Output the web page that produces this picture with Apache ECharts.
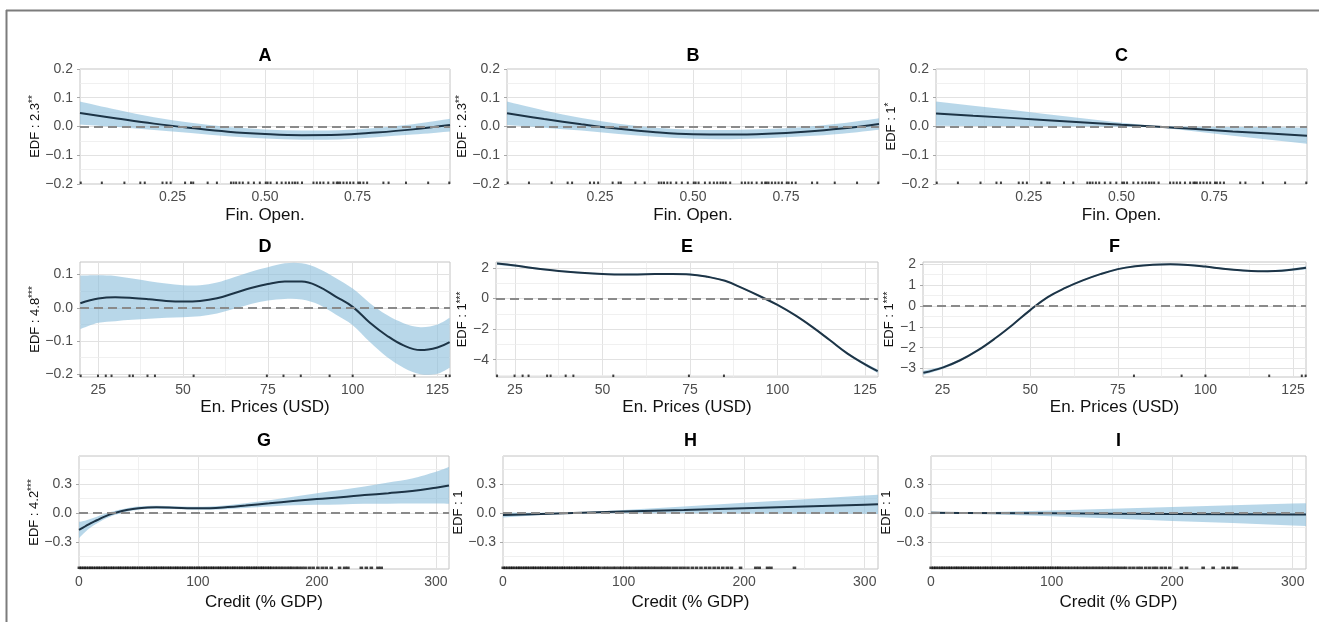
<!DOCTYPE html>
<html>
<head>
<meta charset="utf-8">
<script src="https://cdn.jsdelivr.net/npm/echarts@6/dist/echarts.min.js"></script>
<style>
html, body { margin: 0; padding: 0; background: #ffffff; }
#chart { width: 1319px; height: 622px; }
</style>
</head>
<body>
<div id="chart"></div>
<script>
// ---------- Financial openness smooths (panels A–C) ----------
const finOpenX = [0, 0.1, 0.2, 0.3, 0.4, 0.5, 0.6, 0.7, 0.8, 0.9, 1.0];
const fitA   = [0.047, 0.028, 0.010, -0.005, -0.018, -0.026, -0.030, -0.029, -0.021, -0.010, 0.005];
const upperA = [0.087, 0.058, 0.032, 0.013, -0.002, -0.010, -0.014, -0.013, -0.005, 0.008, 0.027];
const lowerA = [0.007, -0.002, -0.012, -0.023, -0.034, -0.042, -0.046, -0.045, -0.037, -0.028, -0.017];
const fitB   = [0.046, 0.026, 0.008, -0.008, -0.020, -0.027, -0.028, -0.025, -0.018, -0.007, 0.009];
const upperB = [0.087, 0.056, 0.030, 0.010, -0.004, -0.011, -0.012, -0.009, -0.002, 0.011, 0.029];
const lowerB = [0.005, -0.004, -0.014, -0.026, -0.036, -0.043, -0.044, -0.041, -0.034, -0.025, -0.011];
const fitC   = [0.045, 0.037, 0.030, 0.022, 0.014, 0.006, -0.001, -0.009, -0.017, -0.024, -0.032];
const upperC = [0.087, 0.072, 0.058, 0.043, 0.028, 0.013, 0.001, -0.001, -0.002, -0.002, -0.004];
const lowerC = [0.003, 0.002, 0.002, 0.001, 0.000, -0.001, -0.003, -0.017, -0.032, -0.046, -0.060];
const finOpenRug = [0.002, 0.059, 0.120, 0.163, 0.175, 0.223, 0.234, 0.245, 0.284, 0.300, 0.306, 0.345,
  0.370, 0.408, 0.415, 0.422, 0.431, 0.440, 0.455, 0.470, 0.486, 0.502, 0.507, 0.515, 0.532, 0.545,
  0.556, 0.565, 0.574, 0.581, 0.588, 0.600, 0.631, 0.640, 0.649, 0.658, 0.671, 0.685, 0.694, 0.698,
  0.703, 0.712, 0.721, 0.730, 0.739, 0.752, 0.757, 0.766, 0.776, 0.820, 0.834, 0.881, 0.941, 0.998];
const finOpenTicks = [0.25, 0.5, 0.75];
const finOpenMinor = [0.125, 0.375, 0.625, 0.875];
const finYTicks = [-0.2, -0.1, 0, 0.1, 0.2];
const finYMinor = [-0.15, -0.05, 0.05, 0.15];

// ---------- Energy price smooths (panels D–F) ----------
const enPriceXD = [19.7, 25, 30, 35, 40, 45, 50, 55, 60, 65, 70, 75, 80, 85, 90, 95, 100, 105, 110, 115, 120, 125, 128.6];
const fitD   = [0.014, 0.028, 0.032, 0.030, 0.026, 0.021, 0.019, 0.021, 0.029, 0.044, 0.060, 0.072, 0.079, 0.079, 0.064, 0.034, 0.003, -0.044, -0.083, -0.113, -0.127, -0.119, -0.103];
const upperD = [0.097, 0.098, 0.096, 0.088, 0.080, 0.073, 0.068, 0.068, 0.076, 0.092, 0.109, 0.122, 0.134, 0.134, 0.118, 0.090, 0.058, 0.015, -0.021, -0.046, -0.058, -0.050, -0.030];
const lowerD = [-0.064, -0.045, -0.040, -0.036, -0.033, -0.030, -0.028, -0.025, -0.017, -0.003, 0.012, 0.022, 0.027, 0.025, 0.010, -0.020, -0.052, -0.102, -0.147, -0.180, -0.200, -0.198, -0.180];
const enPriceXE = [19.9, 25, 30, 35, 40, 45, 50, 55, 60, 65, 70, 75, 80, 85, 90, 95, 100, 105, 110, 115, 120, 125, 128.6];
const fitE   = [2.29, 2.16, 2.00, 1.87, 1.76, 1.67, 1.61, 1.57, 1.58, 1.60, 1.61, 1.58, 1.42, 1.16, 0.68, 0.15, -0.42, -1.09, -1.87, -2.73, -3.60, -4.30, -4.75];
const upperE = [2.38, 2.23, 2.06, 1.92, 1.81, 1.72, 1.66, 1.62, 1.63, 1.65, 1.66, 1.63, 1.47, 1.21, 0.73, 0.20, -0.37, -1.04, -1.81, -2.66, -3.52, -4.21, -4.63];
const lowerE = [2.20, 2.09, 1.94, 1.82, 1.71, 1.62, 1.56, 1.52, 1.53, 1.55, 1.56, 1.53, 1.37, 1.11, 0.63, 0.10, -0.47, -1.14, -1.93, -2.80, -3.68, -4.39, -4.87];
const enPriceXF = [19.5, 25, 30, 35, 40, 45, 50, 55, 60, 65, 70, 75, 80, 85, 90, 95, 100, 105, 110, 115, 120, 125, 128.7];
const fitF   = [-3.20, -2.95, -2.60, -2.13, -1.55, -0.90, -0.20, 0.42, 0.86, 1.22, 1.52, 1.76, 1.90, 1.97, 1.99, 1.96, 1.88, 1.78, 1.70, 1.66, 1.67, 1.74, 1.82];
const upperF = [-3.10, -2.88, -2.55, -2.09, -1.51, -0.86, -0.16, 0.46, 0.90, 1.26, 1.56, 1.80, 1.94, 2.01, 2.03, 2.00, 1.92, 1.82, 1.74, 1.70, 1.72, 1.80, 1.90];
const lowerF = [-3.30, -3.02, -2.65, -2.17, -1.59, -0.94, -0.24, 0.38, 0.82, 1.18, 1.48, 1.72, 1.86, 1.93, 1.95, 1.92, 1.84, 1.74, 1.66, 1.62, 1.62, 1.68, 1.74];
const enPriceRugD = [19.8, 24.9, 27.2, 28.9, 34.2, 35.2, 39.5, 41.7, 53.1, 74.7, 79.6, 84.7, 93.2, 100, 118.2, 127.5, 128.6];
const enPriceRugE = [19.9, 24.9, 27.2, 28.9, 34.2, 35.2, 39.5, 41.7, 53.1, 74.7, 84.7];
const enPriceRugF = [79.6, 93.2, 100, 118.2, 127.5, 128.6];
const enPriceTicks = [25, 50, 75, 100, 125];
const enPriceMinor = [37.5, 62.5, 87.5, 112.5];
const dYTicks = [-0.2, -0.1, 0, 0.1];
const dYMinor = [-0.15, -0.05, 0.05];
const eYTicks = [-4, -2, 0, 2];
const eYMinor = [-5, -3, -1, 1];
const fYTicks = [-3, -2, -1, 0, 1, 2];
const fYMinor = [-2.5, -1.5, -0.5, 0.5, 1.5];

// ---------- Credit smooths (panels G–I) ----------
const creditXG = [0, 5, 10, 15, 20, 25, 30, 40, 50, 65, 80, 95, 110, 125, 140, 160, 180, 200, 220, 240, 260, 280, 300, 311];
const fitG   = [-0.176, -0.140, -0.104, -0.075, -0.045, -0.020, 0.000, 0.031, 0.050, 0.059, 0.055, 0.049, 0.050, 0.061, 0.077, 0.100, 0.124, 0.145, 0.163, 0.185, 0.205, 0.227, 0.262, 0.285];
const upperG = [-0.091, -0.080, -0.059, -0.040, -0.017, 0.004, 0.021, 0.049, 0.066, 0.074, 0.070, 0.064, 0.067, 0.081, 0.102, 0.133, 0.169, 0.205, 0.238, 0.275, 0.315, 0.357, 0.427, 0.475];
const lowerG = [-0.261, -0.200, -0.149, -0.110, -0.073, -0.044, -0.021, 0.013, 0.034, 0.044, 0.040, 0.034, 0.033, 0.041, 0.052, 0.067, 0.079, 0.085, 0.088, 0.095, 0.095, 0.097, 0.097, 0.095];
const creditXH = [0, 25, 58, 100, 150, 200, 250, 300, 311];
const fitH   = [-0.021, -0.012, 0.000, 0.015, 0.032, 0.050, 0.068, 0.086, 0.090];
const upperH = [0.004, 0.002, 0.003, 0.032, 0.068, 0.105, 0.143, 0.181, 0.190];
const lowerH = [-0.046, -0.026, -0.003, -0.002, -0.004, -0.005, -0.007, -0.009, -0.010];
const creditXI = [0, 25, 100, 150, 200, 250, 300, 311];
const fitI   = [0.002, 0.000, -0.004, -0.007, -0.010, -0.013, -0.016, -0.017];
const upperI = [0.016, 0.003, 0.027, 0.044, 0.062, 0.079, 0.097, 0.100];
const lowerI = [-0.012, -0.003, -0.035, -0.058, -0.082, -0.105, -0.129, -0.134];
const creditRugG = [0.3, 2.1, 4.2, 6.0, 8.3, 10.1, 12.0, 14.2, 16.1, 18.0, 20.3, 22.1, 24.0, 26.2, 28.1,
  30.0, 32.3, 34.1, 36.0, 38.2, 40.1, 42.0, 44.3, 46.1, 48.0, 50.2, 52.1, 54.0, 56.3, 58.1, 60.0, 62.2,
  64.1, 66.0, 68.3, 70.1, 72.0, 74.2, 76.1, 78.0, 80.3, 82.1, 84.0, 86.2, 88.1, 90.0, 92.3, 94.1, 96.0,
  98.2, 100.1, 102.0, 104.3, 106.1, 108.0, 110.2, 112.1, 114.0, 116.3, 118.1, 120.0, 122.2, 124.1, 126.0,
  128.3, 130.1, 132.0, 134.2, 136.1, 138.0, 140.3, 142.1, 144.0, 146.2, 148.1, 150.0, 152.3, 154.1, 156.0,
  158.2, 160.1, 162.0, 164.6, 166.9, 169.4, 171.8, 174.5, 177.0, 179.2, 182.1, 184.5, 187.3, 190.1, 193.6,
  196.8, 200.8, 204.5, 207.8, 212.0, 219.0, 223.3, 226.0, 237.3, 241.5, 245.7, 251.3, 254.0];
const creditRugH = [0.2, 2.0, 4.1, 6.2, 8.0, 10.1, 12.3, 14.0, 16.1, 18.2, 20.0, 22.1, 24.3, 26.0, 28.1,
  30.2, 32.0, 34.1, 36.3, 38.0, 40.1, 42.2, 44.0, 46.1, 48.3, 50.0, 52.1, 54.2, 56.0, 58.1, 60.3, 62.0,
  64.1, 66.2, 68.0, 70.1, 72.3, 74.0, 76.1, 78.2, 80.0, 83.0, 85.5, 88.1, 91.0, 93.4, 96.2, 98.5, 101.1,
  103.6, 106.0, 108.9, 111.3, 114.0, 116.6, 119.2, 121.8, 124.5, 127.1, 130.0, 132.6, 135.3, 138.0, 141.2,
  144.1, 147.3, 150.2, 153.4, 157.0, 160.5, 164.2, 168.0, 171.4, 175.1, 178.6, 182.3, 186.0, 189.4, 197.0,
  209.7, 212.5, 219.4, 222.2, 241.7];
const creditRugI = [0.1, 2.2, 4.0, 6.1, 8.3, 10.0, 12.1, 14.2, 16.0, 18.1, 20.3, 22.0, 24.1, 26.2, 28.0,
  30.1, 32.3, 34.0, 36.1, 38.2, 40.0, 42.1, 44.3, 46.0, 48.1, 50.2, 52.0, 54.1, 56.3, 58.0, 60.1, 62.2,
  64.0, 66.1, 68.3, 70.0, 72.1, 74.2, 76.0, 78.1, 80.3, 82.0, 84.1, 86.2, 88.0, 90.1, 92.3, 94.0, 96.1,
  98.2, 100.0, 102.1, 104.3, 106.0, 108.1, 110.6, 113.0, 115.3, 117.9, 120.4, 122.8, 125.5, 128.0, 130.4,
  133.1, 135.6, 138.2, 140.7, 143.3, 146.0, 148.4, 151.1, 153.8, 156.2, 159.0, 161.5, 165.0, 168.2, 171.6,
  174.3, 178.0, 181.2, 184.5, 187.1, 191.0, 194.3, 198.0, 207.7, 211.9, 225.7, 234.0, 242.3, 246.4, 250.6, 253.3];
const creditTicks = [0, 100, 200, 300];
const creditMinor = [50, 150, 250];
const creditYTicks = [-0.3, 0, 0.3];
const creditYMinor = [-0.45, -0.15, 0.15, 0.45];

// ---------- styling ----------
const FONT = '"Liberation Sans", Arial, Helvetica, sans-serif';
const LINE_COLOR = '#1d3446';
const BAND_COLOR = 'rgba(140, 190, 220, 0.62)';
const GRID_MAJOR = '#e2e2e2';
const GRID_MINOR = '#ececec';

function signed(digits) {
  return function (v) {
    const s = Number(v).toFixed(digits);
    return s.charAt(0) === '-' ? '\u2212' + s.slice(1) : s;
  };
}

// panel descriptions: data references plus layout box [left, top, width, height]
const panels = [
  { title: 'A', rect: [80, 69, 370, 115], x: finOpenX, fit: fitA, upper: upperA, lower: lowerA, rug: finOpenRug,
    edf: '2.3', stars: '**', xName: 'Fin. Open.', xMin: 0, xMax: 1, xTicks: finOpenTicks, xMinor: finOpenMinor, xFmt: signed(2),
    yMin: -0.2, yMax: 0.2, yTicks: finYTicks, yMinor: finYMinor, yFmt: signed(1), smooth: 0.4, yGap: 31, xGap: 23, rugSize: [2, 2.5] },
  { title: 'B', rect: [507, 69, 372, 115], x: finOpenX, fit: fitB, upper: upperB, lower: lowerB, rug: finOpenRug,
    edf: '2.3', stars: '**', xName: 'Fin. Open.', xMin: 0, xMax: 1, xTicks: finOpenTicks, xMinor: finOpenMinor, xFmt: signed(2),
    yMin: -0.2, yMax: 0.2, yTicks: finYTicks, yMinor: finYMinor, yFmt: signed(1), smooth: 0.4, yGap: 29, xGap: 23, rugSize: [2, 2.5] },
  { title: 'C', rect: [936, 69, 371, 115], x: finOpenX, fit: fitC, upper: upperC, lower: lowerC, rug: finOpenRug,
    edf: '1', stars: '*', xName: 'Fin. Open.', xMin: 0, xMax: 1, xTicks: finOpenTicks, xMinor: finOpenMinor, xFmt: signed(2),
    yMin: -0.2, yMax: 0.2, yTicks: finYTicks, yMinor: finYMinor, yFmt: signed(1), smooth: 0, yGap: 31, xGap: 23, rugSize: [2, 2.5] },
  { title: 'D', rect: [80, 262, 370, 115], x: enPriceXD, fit: fitD, upper: upperD, lower: lowerD, rug: enPriceRugD,
    edf: '4.8', stars: '***', xName: 'En. Prices (USD)', xMin: 19.6, xMax: 128.7, xTicks: enPriceTicks, xMinor: enPriceMinor, xFmt: signed(0),
    yMin: -0.208, yMax: 0.138, yTicks: dYTicks, yMinor: dYMinor, yFmt: signed(1), smooth: 0.4, yGap: 29, xGap: 22, rugSize: [2, 2.5] },
  { title: 'E', rect: [496, 262, 382, 115], x: enPriceXE, fit: fitE, upper: upperE, lower: lowerE, rug: enPriceRugE,
    edf: '1', stars: '***', xName: 'En. Prices (USD)', xMin: 19.6, xMax: 128.7, xTicks: enPriceTicks, xMinor: enPriceMinor, xFmt: signed(0),
    yMin: -5.13, yMax: 2.39, yTicks: eYTicks, yMinor: eYMinor, yFmt: signed(0), smooth: 0.4, yGap: 14, xGap: 22, rugSize: [2, 2.5] },
  { title: 'F', rect: [923, 262, 383, 115], x: enPriceXF, fit: fitF, upper: upperF, lower: lowerF, rug: enPriceRugF,
    edf: '1', stars: '***', xName: 'En. Prices (USD)', xMin: 19.4, xMax: 128.7, xTicks: enPriceTicks, xMinor: enPriceMinor, xFmt: signed(0),
    yMin: -3.4, yMax: 2.1, yTicks: fYTicks, yMinor: fYMinor, yFmt: signed(0), smooth: 0.4, yGap: 15, xGap: 22, rugSize: [2, 2.5] },
  { title: 'G', rect: [79, 456, 370, 113], x: creditXG, fit: fitG, upper: upperG, lower: lowerG, rug: creditRugG,
    edf: '4.2', stars: '***', xName: 'Credit (% GDP)', xMin: 0, xMax: 311, xTicks: creditTicks, xMinor: creditMinor, xFmt: signed(0),
    yMin: -0.58, yMax: 0.59, yTicks: creditYTicks, yMinor: creditYMinor, yFmt: signed(1), smooth: 0.4, yGap: 27, xGap: 25, rugSize: [3.6, 2.5] },
  { title: 'H', rect: [503, 456, 375, 113], x: creditXH, fit: fitH, upper: upperH, lower: lowerH, rug: creditRugH,
    edf: '1', stars: '', xName: 'Credit (% GDP)', xMin: 0, xMax: 311, xTicks: creditTicks, xMinor: creditMinor, xFmt: signed(0),
    yMin: -0.58, yMax: 0.59, yTicks: creditYTicks, yMinor: creditYMinor, yFmt: signed(1), smooth: 0, yGap: 26, xGap: 25, rugSize: [3.6, 2.5] },
  { title: 'I', rect: [931, 456, 375, 113], x: creditXI, fit: fitI, upper: upperI, lower: lowerI, rug: creditRugI,
    edf: '1', stars: '', xName: 'Credit (% GDP)', xMin: 0, xMax: 311, xTicks: creditTicks, xMinor: creditMinor, xFmt: signed(0),
    yMin: -0.58, yMax: 0.59, yTicks: creditYTicks, yMinor: creditYMinor, yFmt: signed(1), smooth: 0, yGap: 27, xGap: 25, rugSize: [3.6, 2.5] }
];

// Catmull-Rom style path through pixel points (straight segments when tension is 0)
function pathThrough(pts, tension, startCmd) {
  let d = startCmd + ' ' + pts[0][0] + ' ' + pts[0][1];
  for (let k = 0; k < pts.length - 1; k++) {
    const p0 = pts[k - 1] || pts[k];
    const p1 = pts[k];
    const p2 = pts[k + 1];
    const p3 = pts[k + 2] || pts[k + 1];
    if (!tension) {
      d += ' L ' + p2[0] + ' ' + p2[1];
      continue;
    }
    const f = tension / 2.4;
    const c1x = p1[0] + (p2[0] - p0[0]) * f, c1y = p1[1] + (p2[1] - p0[1]) * f;
    const c2x = p2[0] - (p3[0] - p1[0]) * f, c2y = p2[1] - (p3[1] - p1[1]) * f;
    d += ' C ' + c1x + ' ' + c1y + ' ' + c2x + ' ' + c2y + ' ' + p2[0] + ' ' + p2[1];
  }
  return d;
}

const option = {
  animation: false,
  textStyle: { fontFamily: FONT },
  grid: [], xAxis: [], yAxis: [], series: [],
  graphic: [
    // outer frame (top and left edges)
    { type: 'line', silent: true, shape: { x1: 6, y1: 10.5, x2: 1319, y2: 10.5 }, style: { stroke: '#7c7c7c', lineWidth: 2 } },
    { type: 'line', silent: true, shape: { x1: 6.5, y1: 10, x2: 6.5, y2: 622 }, style: { stroke: '#7c7c7c', lineWidth: 2 } }
  ]
};

const zip = (xs, ys) => xs.map((v, k) => [v, ys[k]]);

panels.forEach((p, i) => {
  const [left, top, width, height] = p.rect;

  option.grid.push({
    left: left, top: top, width: width, height: height,
    show: true, borderColor: '#c4c4c4', borderWidth: 1, backgroundColor: 'transparent'
  });

  option.graphic.push({
    type: 'text', silent: true, x: left + width / 2, y: top - (i < 3 ? 13 : 15),
    style: { text: p.title, fill: '#000', font: 'bold 18px ' + FONT, textAlign: 'center', textVerticalAlign: 'middle' }
  });

  option.xAxis.push({
    type: 'value', gridIndex: i, min: p.xMin, max: p.xMax,
    axisLine: { show: false }, splitLine: { show: false },
    axisTick: { show: true, length: 3, lineStyle: { color: '#a8a8a8' }, customValues: p.xTicks },
    axisLabel: { customValues: p.xTicks, formatter: p.xFmt, color: '#4d4d4d', fontSize: 14, margin: 6, fontFamily: FONT },
    name: p.xName, nameLocation: 'middle', nameGap: p.xGap,
    nameTextStyle: { fontSize: 17, color: '#111', fontFamily: FONT }
  });

  option.yAxis.push({
    type: 'value', gridIndex: i, min: p.yMin, max: p.yMax,
    axisLine: { show: false }, splitLine: { show: false },
    axisTick: { show: true, length: 3, lineStyle: { color: '#a8a8a8' }, customValues: p.yTicks },
    axisLabel: { customValues: p.yTicks, formatter: p.yFmt, color: '#4d4d4d', fontSize: 14, margin: 7, fontFamily: FONT },
    name: '{t|EDF : ' + p.edf + '}' + (p.stars ? '{s|' + p.stars + '}' : ''),
    nameLocation: 'middle', nameRotate: 90, nameGap: p.yGap,
    nameTextStyle: {
      color: '#111',
      rich: {
        t: { fontSize: 13, color: '#111', fontFamily: FONT },
        s: { fontSize: 10, color: '#111', fontFamily: FONT, verticalAlign: 'top' }
      }
    }
  });

  // panel grid lines (major + minor)
  const gridLines = []
    .concat(p.xTicks.map(v => ({ xAxis: v, lineStyle: { color: GRID_MAJOR, width: 1, type: 'solid' } })))
    .concat(p.xMinor.map(v => ({ xAxis: v, lineStyle: { color: GRID_MINOR, width: 0.8, type: 'solid' } })))
    .concat(p.yTicks.map(v => ({ yAxis: v, lineStyle: { color: GRID_MAJOR, width: 1, type: 'solid' } })))
    .concat(p.yMinor.filter(v => v > p.yMin && v < p.yMax)
      .map(v => ({ yAxis: v, lineStyle: { color: GRID_MINOR, width: 0.8, type: 'solid' } })));

  option.series.push({
    type: 'line', xAxisIndex: i, yAxisIndex: i, z: 1, silent: true,
    data: zip(p.x, p.fit), showSymbol: false, symbol: 'none', lineStyle: { opacity: 0 },
    markLine: { silent: true, symbol: 'none', z: 1, label: { show: false }, animation: false, data: gridLines }
  });

  // confidence band as one filled shape between the upper and lower bounds
  option.series.push({
    type: 'custom', xAxisIndex: i, yAxisIndex: i, z: 2, silent: true,
    data: [[p.x[0], p.fit[0]]],
    encode: { x: 0, y: 1 },
    renderItem: function (params, api) {
      const up = p.x.map((v, k) => api.coord([v, p.upper[k]]));
      const lo = p.x.map((v, k) => api.coord([v, p.lower[k]])).reverse();
      const d = pathThrough(up, p.smooth, 'M') + ' ' + pathThrough(lo, p.smooth, 'L') + ' Z';
      const cs = params.coordSys;
      return {
        type: 'path',
        shape: { pathData: d },
        style: { fill: BAND_COLOR, stroke: null },
        clipPath: { type: 'rect', shape: { x: cs.x, y: cs.y, width: cs.width, height: cs.height } }
      };
    }
  });

  // fitted smooth + zero reference line
  option.series.push({
    type: 'line', xAxisIndex: i, yAxisIndex: i, z: 3, silent: true, smooth: p.smooth || false,
    data: zip(p.x, p.fit), symbol: 'none', lineStyle: { color: LINE_COLOR, width: 2 },
    markLine: {
      silent: true, symbol: 'none', z: 4, label: { show: false }, animation: false,
      lineStyle: { type: [9, 5], color: '#8a8a8a', width: 1.8 },
      data: [{ yAxis: 0 }]
    }
  });

  // rug of observations along the panel floor
  option.series.push({
    type: 'scatter', xAxisIndex: i, yAxisIndex: i, z: 3, silent: true,
    data: p.rug.map(v => [v, p.yMin]), symbol: 'rect', symbolSize: p.rugSize, symbolOffset: [0, -1.2],
    itemStyle: { color: '#111' }
  });
});

const chart = echarts.init(document.getElementById('chart'), null, { renderer: 'canvas' });
chart.setOption(option);
</script>
</body>
</html>
